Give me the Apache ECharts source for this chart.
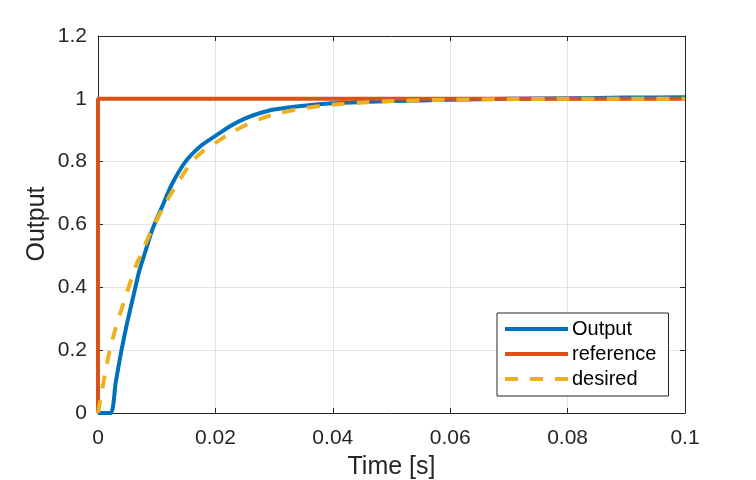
<!DOCTYPE html>
<html>
<head>
<meta charset="utf-8">
<script src="https://cdn.jsdelivr.net/npm/echarts@6/dist/echarts.min.js"></script>
<style>
  html, body { margin: 0; padding: 0; background: #fff; }
  #chart { width: 756px; height: 480px; }
</style>
</head>
<body>
<div id="chart"></div>
<script>
// values
const outputT = [0, 0.0022, 0.003, 0.004, 0.005, 0.006, 0.007, 0.008, 0.009, 0.0096, 0.011, 0.0125, 0.0149, 0.0175, 0.02, 0.0225, 0.025, 0.0275, 0.03, 0.035, 0.04, 0.045, 0.05, 0.055, 0.06, 0.065, 0.07, 0.08, 0.09, 0.1];
const outputV = [0, 0, 0.095, 0.2, 0.29, 0.37, 0.45, 0.51, 0.57, 0.6, 0.66, 0.725, 0.8, 0.85, 0.882, 0.913, 0.937, 0.954, 0.966, 0.978, 0.986, 0.99, 0.993, 0.995, 0.997, 0.999, 1.0, 1.002, 1.004, 1.005];

const referenceT = [0, 0, 0.1];
const referenceV = [0, 1, 1];

const desiredT = [0, 0.001, 0.002, 0.003, 0.004, 0.0052, 0.0065, 0.008, 0.0096, 0.011, 0.0125, 0.014, 0.016, 0.018, 0.02, 0.0225, 0.025, 0.0275, 0.03, 0.035, 0.04, 0.045, 0.05, 0.06, 0.07, 0.08, 0.09, 0.1];
const desiredV = [0, 0.105, 0.2, 0.27, 0.33, 0.4, 0.47, 0.535, 0.6, 0.65, 0.7, 0.745, 0.8, 0.835, 0.86, 0.89, 0.915, 0.935, 0.951, 0.97, 0.982, 0.988, 0.993, 0.997, 0.999, 1.0, 1.0, 1.0];

const seriesNames = ['Output', 'reference', 'desired'];
const seriesColors = ['#0072BD', '#D95319', '#EDB120'];

const FONT = "'Liberation Sans', Arial, sans-serif";
const INK = '#262626';
const DASH = [13, 12];

function pairs(ts, vs) {
    return ts.map(function(t, i) { return [t, vs[i]]; });
}

const chart = echarts.init(document.getElementById('chart'), null, { renderer: 'canvas' });

const tickStyle = { show: true, inside: true, length: 5, lineStyle: { color: INK, width: 1 } };
const lineAxis = { show: true, onZero: false, lineStyle: { color: INK, width: 1 } };
const gridLines = { show: true, lineStyle: { color: '#e3e3e3', width: 1 } };

const option = {
    backgroundColor: '#fff',
    animation: false,
    grid: { left: 98, right: 71, top: 36, bottom: 67, outerBoundsMode: 'none' },
    // y axis title, placed by hand as the axis name ignored nameGap
    graphic: [
        {
            type: 'text',
            x: 37,
            y: 224,
            rotation: Math.PI / 2,
            style: {
                text: 'Output',
                fill: INK,
                font: '25px ' + FONT,
                align: 'center',
                verticalAlign: 'middle'
            }
        }
    ],
    xAxis: [
        {
            type: 'value',
            min: 0,
            max: 0.1,
            interval: 0.02,
            name: 'Time [s]',
            nameLocation: 'middle',
            nameGap: 42,
            nameTextStyle: { color: INK, fontSize: 25, fontFamily: FONT },
            axisLine: lineAxis,
            axisTick: tickStyle,
            axisLabel: { color: INK, fontSize: 21, fontFamily: FONT, margin: 15 },
            splitLine: gridLines
        },
        {
            type: 'value',
            position: 'top',
            min: 0,
            max: 0.1,
            interval: 0.02,
            axisLine: lineAxis,
            axisTick: tickStyle,
            axisLabel: { show: false },
            splitLine: { show: false }
        }
    ],
    yAxis: [
        {
            type: 'value',
            min: 0,
            max: 1.2,
            interval: 0.2,
            axisLine: lineAxis,
            axisTick: tickStyle,
            axisLabel: { color: INK, fontSize: 21, fontFamily: FONT, margin: 11 },
            splitLine: gridLines
        },
        {
            type: 'value',
            position: 'right',
            min: 0,
            max: 1.2,
            interval: 0.2,
            axisLine: lineAxis,
            axisTick: tickStyle,
            axisLabel: { show: false },
            splitLine: { show: false }
        }
    ],
    legend: {
        orient: 'vertical',
        left: 497,
        top: 313,
        padding: [6, 12, 7, 6],
        itemWidth: 63,
        itemHeight: 14,
        itemGap: 5,
        borderColor: INK,
        borderWidth: 1,
        backgroundColor: '#fff',
        itemStyle: { opacity: 0 },
        lineStyle: { width: 4 },
        textStyle: { color: '#000', fontSize: 20, fontFamily: FONT, padding: [0, 0, 0, -1] },
        data: [
            { name: seriesNames[0] },
            { name: seriesNames[1] },
            { name: seriesNames[2], lineStyle: { width: 4, type: DASH } }
        ]
    },
    series: [
        {
            name: seriesNames[0],
            type: 'line',
            data: pairs(outputT, outputV),
            showSymbol: false,
            symbol: 'none',
            smooth: 0.2,
            color: seriesColors[0],
            lineStyle: { color: seriesColors[0], width: 4, join: 'round' },
            z: 3
        },
        {
            name: seriesNames[1],
            type: 'line',
            data: pairs(referenceT, referenceV),
            showSymbol: false,
            symbol: 'none',
            color: seriesColors[1],
            lineStyle: { color: seriesColors[1], width: 4 },
            z: 4
        },
        {
            name: seriesNames[2],
            type: 'line',
            data: pairs(desiredT, desiredV),
            showSymbol: false,
            symbol: 'none',
            smooth: 0.2,
            color: seriesColors[2],
            lineStyle: { color: seriesColors[2], width: 4, type: DASH },
            z: 5
        }
    ]
};

chart.setOption(option);
</script>
</body>
</html>
